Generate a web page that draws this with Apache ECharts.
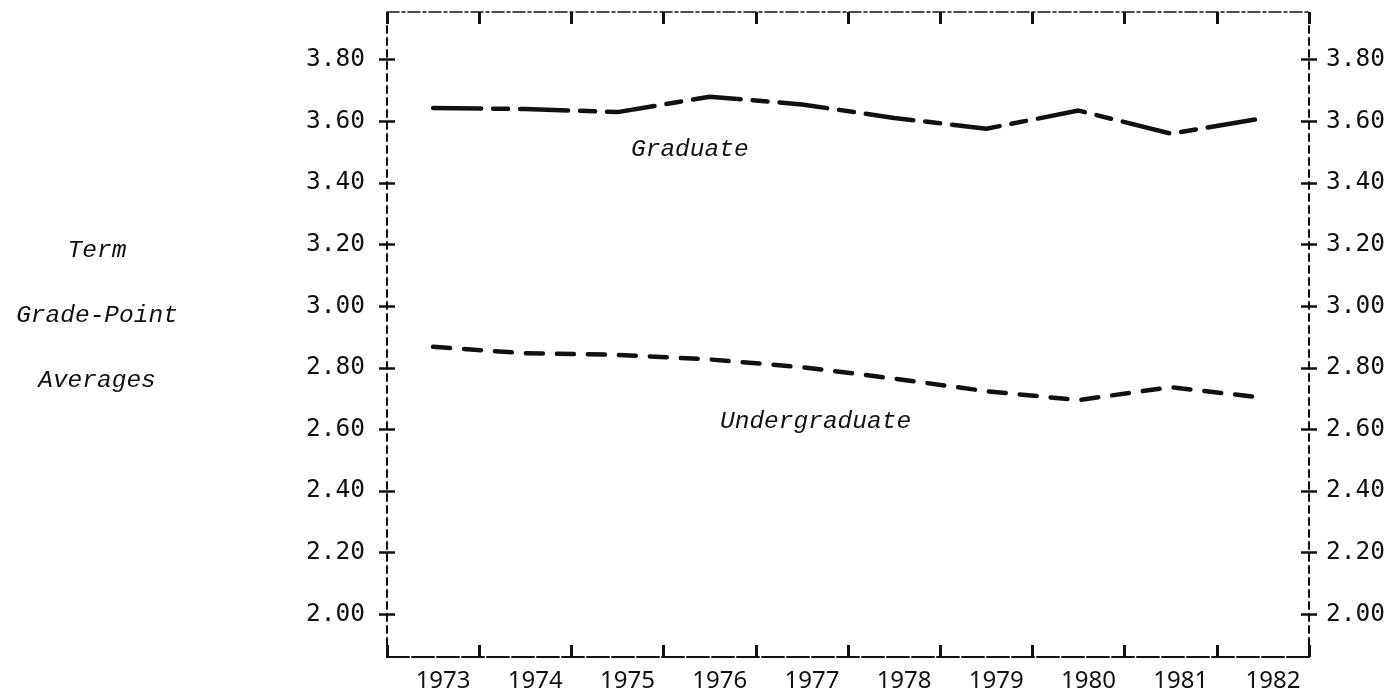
<!DOCTYPE html>
<html>
<head>
<meta charset="utf-8">
<script src="https://cdn.jsdelivr.net/npm/echarts@6/dist/echarts.min.js"></script>
<style>
html,body{margin:0;padding:0;background:#fff;}
#chart{width:1400px;height:693px;}
</style>
</head>
<body>
<div id="chart"></div>
<script>
// ---- data ----
const years = ['1973','1974','1975','1976','1977','1978','1979','1980','1981','1982'];
const graduate = [3.643, 3.640, 3.630, 3.680, 3.655, 3.611, 3.576, 3.635, 3.560, 3.610];
const undergraduate = [2.868, 2.847, 2.842, 2.827, 2.802, 2.765, 2.724, 2.695, 2.737, 2.703];
const yTicks = [2.00, 2.20, 2.40, 2.60, 2.80, 3.00, 3.20, 3.40, 3.60, 3.80];
const yTitleLines = ['Term', 'Grade-Point', 'Averages'];
const seriesNames = ['Graduate', 'Undergraduate'];

// ---- layout / style ----
const Y_MIN = 1.861, Y_MAX = 3.955;
const tickFont = 'DejaVu Sans Mono';
const italicFont = 'Liberation Mono';
const black = '#111';

const chart = echarts.init(document.getElementById('chart'), null, {renderer: 'canvas'});

function yAxisBase(position, showLine, inside, showLabel, margin) {
  return {
    type: 'value', position: position, min: Y_MIN, max: Y_MAX,
    axisLine: {show: showLine, lineStyle: {color: black, width: 2, type: [7, 5]}},
    axisTick: {show: true, inside: inside, length: 8, customValues: yTicks,
               lineStyle: {color: black, width: 2.5}},
    axisLabel: {show: showLabel, customValues: yTicks, margin: margin,
                formatter: v => v.toFixed(2),
                fontFamily: tickFont, fontSize: 24.5, color: black},
    splitLine: {show: false}
  };
}

const option = {
  backgroundColor: '#fff',
  animation: false,
  grid: {left: 387, top: 12, width: 922, height: 648, containLabel: false},
  xAxis: [
    {
      type: 'category', position: 'bottom', data: years, boundaryGap: true,
      axisLine: {show: true, lineStyle: {color: black, width: 2, type: [22, 3]}},
      axisTick: {show: true, inside: true, length: 12, lineStyle: {color: black, width: 3}},
      axisLabel: {show: true, fontFamily: 'Noto Sans', fontSize: 24, color: black,
                  margin: 12, padding: [0, 0, 0, 20]},
      splitLine: {show: false}
    },
    {
      type: 'category', position: 'top', data: years, boundaryGap: true,
      axisLine: {show: true, lineStyle: {color: black, width: 1.5, type: [12, 3, 3, 3]}},
      axisTick: {show: true, inside: true, length: 12, lineStyle: {color: black, width: 3}},
      axisLabel: {show: false},
      splitLine: {show: false}
    }
  ],
  yAxis: [
    yAxisBase('left', true, false, true, 22),
    yAxisBase('left', false, true, false, 0),
    yAxisBase('right', true, false, true, 17),
    yAxisBase('right', false, true, false, 0)
  ],
  series: [
    {
      name: seriesNames[0], type: 'line', data: graduate,
      xAxisIndex: 0, yAxisIndex: 0,
      symbol: 'none', smooth: false,
      lineStyle: {color: black, width: 4.5, type: [48, 12, 15, 12], cap: 'round'}
    },
    {
      name: seriesNames[1], type: 'line', data: undergraduate,
      xAxisIndex: 0, yAxisIndex: 0,
      symbol: 'none', smooth: false,
      lineStyle: {color: black, width: 4.5, type: [17, 14], cap: 'round'}
    }
  ],
  graphic: [
    {type: 'text', x: 631, y: 150,
     style: {text: seriesNames[0], fontFamily: italicFont, fontStyle: 'italic', fontSize: 24.5,
             fill: black, align: 'left', verticalAlign: 'middle'}},
    {type: 'text', x: 720, y: 422,
     style: {text: seriesNames[1], fontFamily: italicFont, fontStyle: 'italic', fontSize: 24.5,
             fill: black, align: 'left', verticalAlign: 'middle'}},
    {type: 'text', x: 97, y: 251,
     style: {text: yTitleLines[0], fontFamily: italicFont, fontStyle: 'italic', fontSize: 24.5,
             fill: black, align: 'center', verticalAlign: 'middle'}},
    {type: 'text', x: 97, y: 316,
     style: {text: yTitleLines[1], fontFamily: italicFont, fontStyle: 'italic', fontSize: 24.5,
             fill: black, align: 'center', verticalAlign: 'middle'}},
    {type: 'text', x: 97, y: 381,
     style: {text: yTitleLines[2], fontFamily: italicFont, fontStyle: 'italic', fontSize: 24.5,
             fill: black, align: 'center', verticalAlign: 'middle'}}
  ]
};
chart.setOption(option);
</script>
</body>
</html>
